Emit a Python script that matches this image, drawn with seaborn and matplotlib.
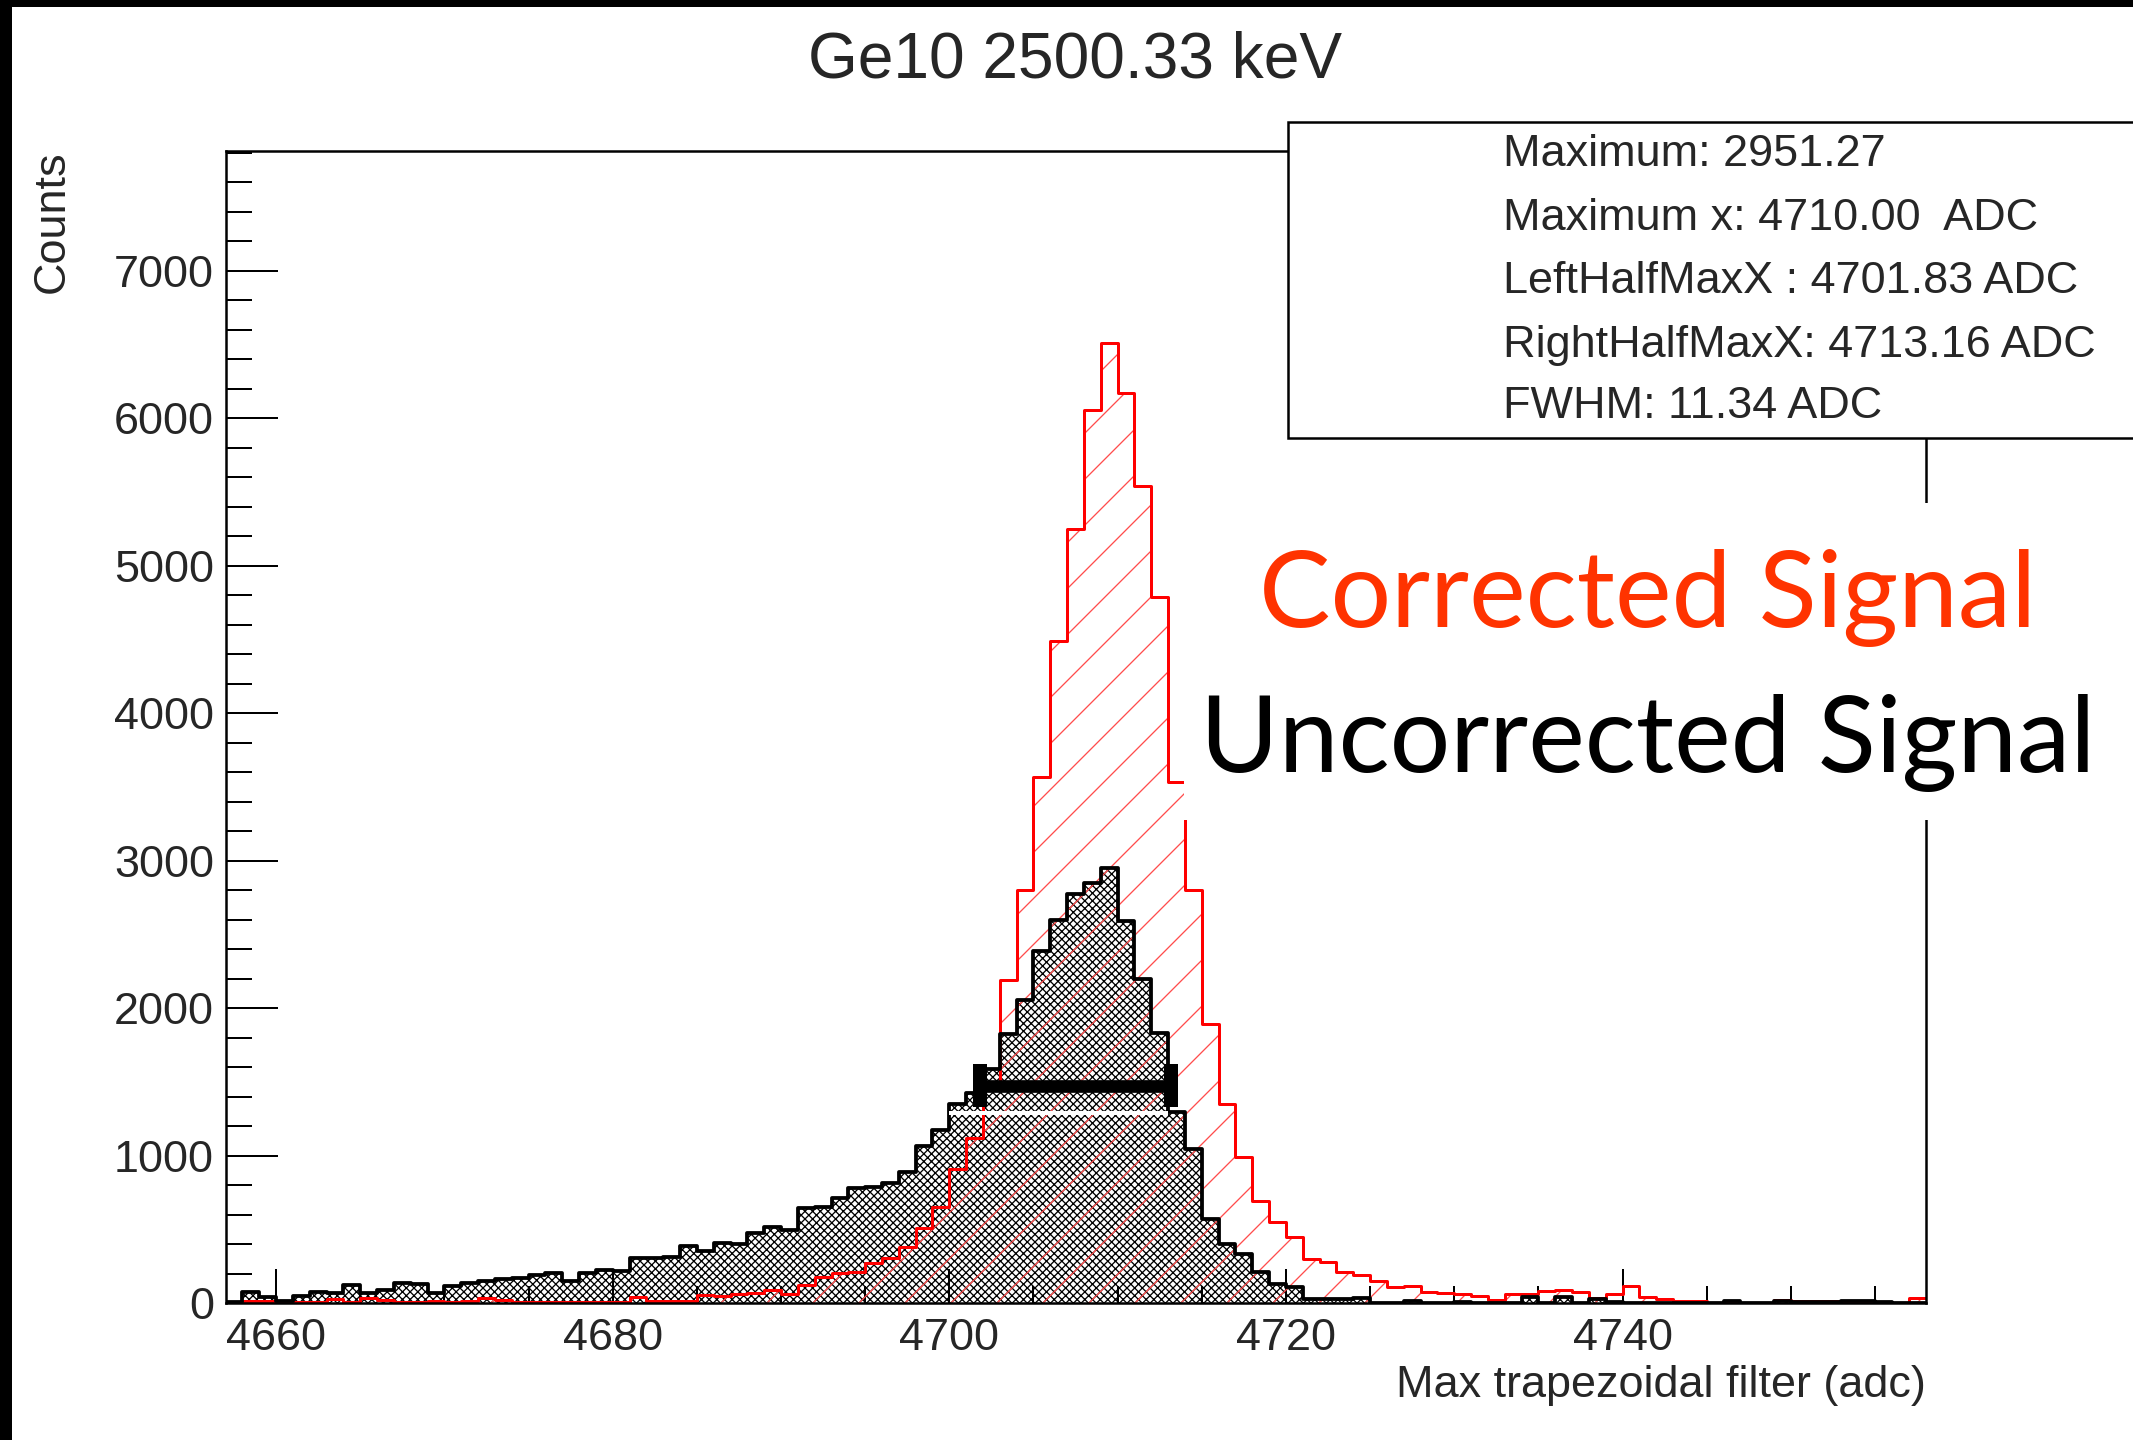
import numpy as np
import pandas as pd
import matplotlib
matplotlib.use("Agg")
import matplotlib.pyplot as plt
from matplotlib.patches import Rectangle
from matplotlib.ticker import MultipleLocator
import seaborn as sns

W, H, DPI = 2133, 1440, 138


def pt(px):
    """Pixel size to points at the output resolution."""
    return px * 72.0 / DPI


def fx(px):
    return px / W


def fy(py):
    return 1.0 - py / H


# Unit-wide bins, first bin starts at 4657 adc
first_bin = 4657

corrected = [
    5, 18, 18, 5, 8, 10, 27, 12, 34, 23,
    10, 12, 15, 10, 18, 38, 20, 11, 11, 9,
    11, 10, 11, 12, 45, 18, 18, 18, 56, 50,
    63, 72, 90, 63, 124, 176, 208, 215, 276, 305,
    385, 513, 654, 908, 1121, 1450, 2190, 2805, 3570, 4493,
    5248, 6057, 6513, 6170, 5542, 4791, 3533, 2800, 1896, 1354,
    995, 693, 551, 450, 299, 283, 213, 190, 154, 113,
    120, 79, 68, 66, 52, 25, 63, 66, 85, 88,
    77, 37, 62, 118, 45, 30, 14, 18, 5, 9,
    5, 5, 20, 17, 16, 14, 5, 5, 9, 0,
    37,
]

uncorrected = [
    11, 79, 45, 16, 52, 79, 72, 124, 72, 90,
    136, 129, 72, 120, 136, 154, 163, 174, 192, 208,
    154, 208, 226, 222, 305, 305, 312, 389, 357, 407,
    403, 475, 516, 498, 645, 651, 717, 780, 787, 818,
    891, 1069, 1174, 1354, 1424, 1592, 1828, 2054, 2388, 2598,
    2778, 2848, 2951.27, 2591, 2201, 1833, 1296, 1050, 574, 402,
    335, 210, 130, 112, 28, 30, 30, 34, 3, 3,
    16, 5, 5, 8, 5, 3, 5, 41, 5, 41,
    5, 27, 7, 3, 3, 3, 3, 5, 3, 18,
    5, 5, 16, 8, 8, 8, 14, 14, 8, 0,
    0,
]

stat_lines = [
    "Maximum: 2951.27",
    "Maximum x: 4710.00  ADC",
    "LeftHalfMaxX : 4701.83 ADC",
    "RightHalfMaxX: 4713.16 ADC",
    "FWHM: 11.34 ADC",
]
peak_height = 2951.27
left_half_x = 4701.83
right_half_x = 4713.16

title = "Ge10 2500.33 keV"
x_label = "Max trapezoidal filter (adc)"
y_label = "Counts"
x_range = (4657, 4758)
y_top = 7816

edges = [first_bin + i for i in range(len(corrected) + 1)]
df = pd.DataFrame({
    "adc": np.array(edges[:-1]) + 0.5,
    "corrected": corrected,
    "uncorrected": uncorrected,
})

sns.set_style("ticks")
plt.rcParams["font.family"] = ["Liberation Sans", "DejaVu Sans"]
plt.rcParams["hatch.linewidth"] = pt(1.3)

fig = plt.figure(figsize=(W / DPI, H / DPI), dpi=DPI, facecolor="white")
ax = fig.add_axes([fx(225.6), fy(1303.4), fx(1925.5) - fx(225.6), fy(150.5) - fy(1303.4)])
ax.set_facecolor("white")

common = dict(data=df, x="adc", bins=edges, element="step", ax=ax)

# Uncorrected spectrum: dense cross-hatched fill
sns.histplot(weights="uncorrected", fill=True, color="black", facecolor="none",
             edgecolor="black", linewidth=0, hatch="xxxxxx", alpha=1, zorder=1, **common)
# Corrected spectrum: diagonal red hatch
sns.histplot(weights="corrected", fill=True, color="red", facecolor="none",
             edgecolor=(1.0, 0.3, 0.3), linewidth=0, hatch="/", alpha=1, zorder=1.1,
             **common)
# Outlines
sns.histplot(weights="corrected", fill=False, color="#ff0000", linewidth=pt(3.0),
             zorder=2, **common)
sns.histplot(weights="uncorrected", fill=False, color="black", linewidth=pt(3.8),
             zorder=2.1, **common)

# FWHM marker at half of the uncorrected maximum
half = peak_height / 2
ax.hlines(half, left_half_x, right_half_x, color="black", linewidth=pt(12.7),
          capstyle="butt", zorder=3)
ax.vlines([left_half_x, right_half_x], half - 145, half + 145, color="black",
          linewidth=pt(14), capstyle="butt", zorder=3)
ax.hlines(1288, 4700, 4713, color="white", linewidth=pt(4), capstyle="butt", zorder=3.1)

ax.set_xlim(*x_range)
ax.set_ylim(0, y_top)
ax.set_xlabel("")
ax.set_ylabel("")

for side in ["left", "right", "top", "bottom"]:
    ax.spines[side].set_visible(True)
    ax.spines[side].set_color("black")
    ax.spines[side].set_linewidth(pt(2.5))

ax.xaxis.set_major_locator(MultipleLocator(20))
ax.xaxis.set_minor_locator(MultipleLocator(5))
ax.yaxis.set_major_locator(MultipleLocator(1000))
ax.yaxis.set_minor_locator(MultipleLocator(200))
ax.tick_params(axis="x", which="major", direction="in", length=pt(34), width=pt(2),
               pad=pt(15), labelsize=pt(45), top=False, color="black")
ax.tick_params(axis="x", which="minor", direction="in", length=pt(17), width=pt(2),
               top=False, color="black")
ax.tick_params(axis="y", which="major", direction="in", length=pt(52), width=pt(2),
               pad=pt(11.5), labelsize=pt(45), right=False, color="black")
ax.tick_params(axis="y", which="minor", direction="in", length=pt(26), width=pt(2),
               right=False, color="black")

# Statistics panel
fig.add_artist(Rectangle((fx(1288), fy(438)), fx(2160) - fx(1288), fy(122) - fy(438),
                         transform=fig.transFigure, facecolor="white", edgecolor="black",
                         linewidth=pt(2.5), zorder=4))
for line, base in zip(stat_lines, [166, 230, 293, 357, 418]):
    fig.text(fx(1503), fy(base), line, fontsize=pt(45), ha="left", va="baseline", zorder=5)

# Legend-style captions on a white panel
fig.add_artist(Rectangle((fx(1183.5), fy(820)), fx(2140) - fx(1183.5), fy(503) - fy(820),
                         transform=fig.transFigure, facecolor="white", edgecolor="none",
                         zorder=4))
fig.text(fx(1648), fy(627), "Corrected Signal", color="#ff3300", fontsize=pt(107),
         family=["Lato", "DejaVu Sans"], ha="center", va="baseline", zorder=5)
fig.text(fx(1648), fy(772), "Uncorrected Signal", color="black", fontsize=pt(107),
         family=["Lato", "DejaVu Sans"], ha="center", va="baseline", zorder=5)

# Titles
fig.text(fx(1075), fy(78), title, fontsize=pt(64), ha="center", va="baseline")
fig.text(fx(52.5), fy(150), y_label, rotation=90, fontsize=pt(45), ha="center", va="top")
fig.text(fx(1925.5), fy(1397), x_label, fontsize=pt(45), ha="right", va="baseline")

# Frame bands on the left and top edges
fig.add_artist(Rectangle((0, 0), fx(12), 1, transform=fig.transFigure,
                         facecolor="black", edgecolor="none", zorder=10))
fig.add_artist(Rectangle((0, fy(7.3)), 1, 7.3 / H, transform=fig.transFigure,
                         facecolor="black", edgecolor="none", zorder=10))

fig.savefig("out.png", dpi=DPI, facecolor="white")
